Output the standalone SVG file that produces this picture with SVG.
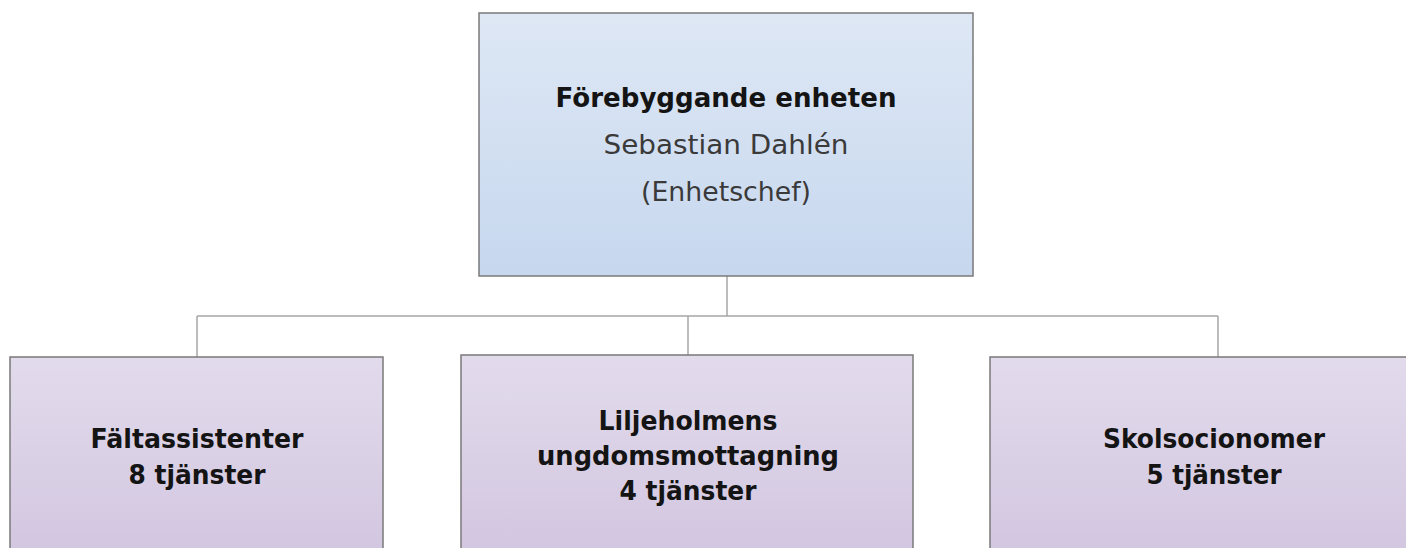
<svg xmlns="http://www.w3.org/2000/svg" width="1406" height="548" viewBox="0 0 1406 548">
<defs>
<linearGradient id="gBlue" x1="0" y1="0" x2="0" y2="1">
<stop offset="0" stop-color="#dee8f5"/>
<stop offset="1" stop-color="#c6d7ee"/>
</linearGradient>
<linearGradient id="gPurple" x1="0" y1="0" x2="0" y2="1">
<stop offset="0" stop-color="#e2dbec"/>
<stop offset="1" stop-color="#d2c6e0"/>
</linearGradient>
<style>
.box{stroke:#7a7a7a;stroke-width:1.5}
.blue{fill:url(#gBlue)}
.purple{fill:url(#gPurple)}
.conn{fill:none;stroke:#a6a6a6;stroke-width:1.5}
text{font-family:"DejaVu Sans","Liberation Sans",sans-serif;text-anchor:middle;font-size:26px}
.b{font-weight:bold;fill:#141414}
.r{fill:#3a3a3a}
.s{font-size:27px}
</style>
</defs>
<rect width="1406" height="548" fill="#ffffff"/>
<g id="connectors">
<path class="conn" d="M727 276 V316 M197 316 H1218 M197 316 V357 M688 316 V355 M1218 316 V357"/>
</g>
<g id="node-top">
<rect class="box blue" x="479" y="13" width="494" height="263"/>
<text class="b" x="726" y="107" textLength="341" lengthAdjust="spacingAndGlyphs">Förebyggande enheten</text>
<text class="r" x="726" y="154" textLength="245" lengthAdjust="spacingAndGlyphs">Sebastian Dahlén</text>
<text class="r" x="726" y="201" textLength="170" lengthAdjust="spacingAndGlyphs">(Enhetschef)</text>
</g>
<g id="node-faltassistenter">
<rect class="box purple" x="10" y="357" width="373" height="200"/>
<text class="b s" x="197" y="448" textLength="213" lengthAdjust="spacingAndGlyphs">Fältassistenter</text>
<text class="b s" x="197" y="484" textLength="137" lengthAdjust="spacingAndGlyphs">8 tjänster</text>
</g>
<g id="node-ungdomsmottagning">
<rect class="box purple" x="461" y="355" width="452" height="200"/>
<text class="b s" x="688" y="430" textLength="179" lengthAdjust="spacingAndGlyphs">Liljeholmens</text>
<text class="b s" x="688" y="465" textLength="302" lengthAdjust="spacingAndGlyphs">ungdomsmottagning</text>
<text class="b s" x="688" y="500" textLength="137" lengthAdjust="spacingAndGlyphs">4 tjänster</text>
</g>
<g id="node-skolsocionomer">
<rect class="box purple" x="990" y="357" width="460" height="200"/>
<text class="b s" x="1214" y="448" textLength="222" lengthAdjust="spacingAndGlyphs">Skolsocionomer</text>
<text class="b s" x="1214" y="484" textLength="135" lengthAdjust="spacingAndGlyphs">5 tjänster</text>
</g>
</svg>
